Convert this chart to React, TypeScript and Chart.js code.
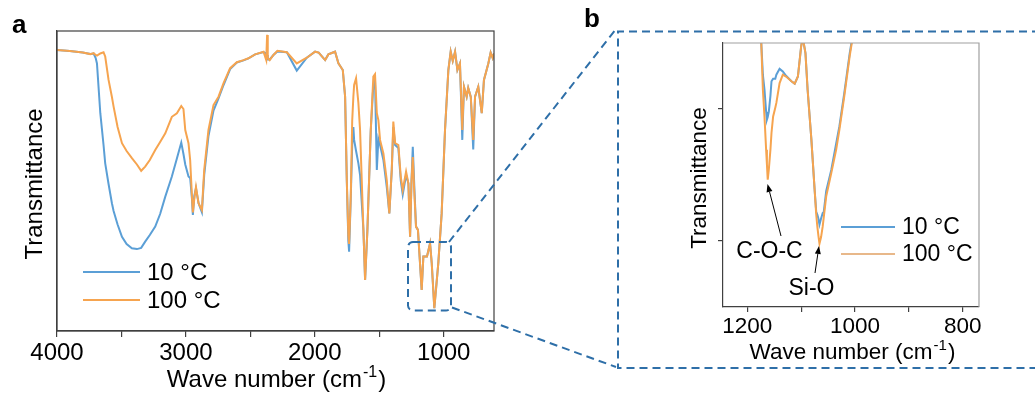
import React, { useEffect, useRef } from 'react';
import { Chart, registerables } from 'chart.js';

Chart.register(...registerables);

const FONT = "Arial, 'Liberation Sans', sans-serif";
const BLUE = '#5b9fd6';
const ORANGE = '#f6a44f';
const ORANGE_B_LEGEND = '#e8b88a';
const DASH = '#2e6fa8';
const AXIS = '#404040';

const seriesNames = ['10 °C', '100 °C'];

// Panel a: full spectrum (wave number, cm-1) and transmittance (arb. units)
const waveA = [
  4000, 3900, 3800, 3742, 3716, 3700, 3690, 3664, 3639, 3626, 3600, 3574, 3561, 3530, 3496,
  3460, 3419, 3380, 3347, 3316, 3280, 3238, 3200, 3160, 3109, 3070, 3036, 3019, 3005, 2980,
  2967, 2953, 2946, 2935, 2922, 2902, 2876, 2858, 2825, 2786, 2747, 2708, 2657, 2605, 2553,
  2515, 2463, 2398, 2377, 2370, 2365, 2350, 2321, 2290, 2217, 2140, 2062, 1998, 1970, 1920,
  1895, 1843, 1817, 1783, 1765, 1752, 1740, 1734, 1721, 1710, 1701, 1695, 1680, 1662, 1649,
  1623, 1610, 1592, 1566, 1546, 1533, 1519, 1507, 1494, 1468, 1442, 1422, 1403, 1391, 1377,
  1352, 1333, 1318, 1292, 1274, 1261, 1250, 1240, 1228, 1215, 1200, 1184, 1171, 1158, 1130,
  1106, 1093, 1073, 1042, 1016, 990, 964, 946, 930, 912, 894, 874, 856, 843, 822,
  810, 790, 771, 757, 732, 705, 688, 654, 636, 620, 610,
];
const blueA = [
  93.7, 93.3, 92.8, 92.3, 92.5, 91, 89.2, 72.6, 62, 55.9, 49, 42.6, 40, 35.5, 31.4,
  29, 27.6, 27.3, 27.7, 29.8, 32, 34.8, 39, 44.8, 51.5, 57.5, 62.8, 59, 55.5, 51.5,
  51, 44, 38.7, 45, 47.6, 42.6, 39.6, 52, 65, 73.5, 77.5, 82, 87.3, 89.5, 90.2,
  90.9, 92.2, 93, 92.5, 92, 90.5, 90.5, 92, 93.2, 92.9, 86.8, 91.1, 93.1, 92.8, 90.3,
  92.2, 93.1, 89.2, 87, 78.1, 50.3, 30, 26.4, 44.8, 62, 68, 63.7, 60, 55.9, 52,
  33.7, 17, 33.7, 67, 82, 83.5, 53.7, 64, 62, 57, 48, 39.2, 53.7, 68, 62,
  61, 50, 45.5, 52, 49.2, 31.4, 50, 61.4, 48, 34.8, 33.7, 22.6, 13.7, 24.8, 24.8,
  29.2, 22.6, 7.6, 22.6, 39.2, 67, 87, 93.1, 90, 93.1, 87, 89.2, 63.7, 81.4, 78.1,
  81, 78, 60.5, 78.1, 81.4, 72.6, 83.7, 89.2, 92.8, 91, 92.5,
];
const orangeA = [
  93.7, 93.3, 92.8, 92.3, 92.6, 92, 91.8, 92.5, 92.9, 91.5, 83.7, 78, 74.8, 68, 62.6,
  60, 57.6, 55.5, 53.4, 54.8, 57, 60.3, 63, 65.9, 71.4, 72.6, 75, 74, 67, 62.6,
  57, 44.8, 39.5, 44, 48, 42.6, 40.3, 53.7, 67, 75.3, 78.1, 82.6, 87.6, 89.6, 90.3,
  90.9, 92.2, 93.1, 90.3, 98.7, 91, 90.3, 92, 93.4, 92.9, 89.2, 91.1, 93.1, 92.8, 90.3,
  92.2, 93.1, 89.2, 87, 78.1, 50.3, 32, 29, 44.8, 70, 78.1, 82, 84.2, 76, 67,
  33.7, 17, 33.7, 67, 84.8, 85.6, 72.6, 70.3, 63.7, 59.2, 50.3, 39.2, 53.7, 69.8, 62.6,
  62, 51.4, 47, 53.1, 49.2, 31.4, 50, 58, 46, 34.8, 33.7, 22.6, 13.7, 24.8, 24.8,
  29.2, 22.6, 7.6, 22.6, 39.2, 67, 87, 93.1, 90, 93.1, 87, 89.2, 67, 81.4, 78.1,
  81, 78, 63.7, 78.1, 81.4, 72.6, 83.7, 89.2, 92.8, 91, 92.5,
];
const ticksA = [4000, 3500, 3000, 2500, 2000, 1500, 1000];
const tickLabelsA = ['4000', '', '3000', '', '2000', '', '1000'];

// Panel b: enlarged 1200-1000 cm-1 region
const waveB = [
  1245, 1190, 1176, 1174, 1171, 1168, 1165, 1163.5, 1162, 1160, 1157, 1155, 1152, 1148, 1146,
  1140, 1134, 1128, 1118, 1112, 1106, 1100, 1097, 1092, 1088, 1081, 1075, 1072, 1070, 1068,
  1066, 1063, 1060, 1058, 1053.5, 1044, 1035, 1029, 1020, 1010, 1006, 995,
];
const blueB = [
  250, 140, 105, 100, 88, 82.3, 74, 71, 72, 74, 80, 85.5, 86.5, 86.5, 88,
  90.2, 89.2, 87.6, 85.5, 84.6, 87.3, 98.7, 102, 96.2, 82.3, 63.4, 44.4, 36, 35, 33.5,
  31.2, 33.5, 35.6, 36, 44, 52, 62, 68.5, 81, 96, 101, 130,
];
const orangeB = [
  250, 140, 105, 100, 82.3, 72, 59.6, 54, 48.2, 52, 59.6, 66, 72.2, 75.5, 77.3,
  84.8, 88, 87.3, 85.5, 84.6, 87.3, 98.7, 102, 96.2, 82.3, 63.4, 44.4, 35, 30.5, 27,
  24, 26.5, 30.5, 34, 41.9, 50.8, 59.6, 67.2, 79.8, 94.9, 100, 130,
];
const ticksB = [1200, 1100, 1000, 900, 800];
const tickLabelsB = ['1200', '', '1000', '', '800'];
const ticksBY = [25, 75];
const peakLabels = ['C-O-C', 'Si-O'];

const W = 1035;
const H = 396;

function toPts(xs: number[], ys: number[]) {
  return xs.map((x, i) => ({ x, y: ys[i] }));
}

function supTitle(ctx: CanvasRenderingContext2D, cx: number, baseline: number, size: number) {
  const main = 'Wave number (cm';
  const sup = '-1';
  const tail = ')';
  ctx.save();
  ctx.fillStyle = '#000';
  ctx.textBaseline = 'alphabetic';
  ctx.textAlign = 'left';
  const f1 = `${size}px ${FONT}`;
  const f2 = `${Math.round(size * 0.65)}px ${FONT}`;
  ctx.font = f1;
  const w1 = ctx.measureText(main).width;
  const w3 = ctx.measureText(tail).width;
  ctx.font = f2;
  const w2 = ctx.measureText(sup).width;
  let x = cx - (w1 + w2 + w3) / 2;
  ctx.font = f1;
  ctx.fillText(main, x, baseline);
  x += w1 + 1;
  ctx.font = f2;
  ctx.fillText(sup, x, baseline - size * 0.42);
  x += w2 + 1;
  ctx.font = f1;
  ctx.fillText(tail, x, baseline);
  ctx.restore();
}

function yTitle(ctx: CanvasRenderingContext2D, baseX: number, cy: number, size: number) {
  ctx.save();
  ctx.translate(baseX, cy);
  ctx.rotate(-Math.PI / 2);
  ctx.fillStyle = '#000';
  ctx.font = `${size}px ${FONT}`;
  ctx.textAlign = 'center';
  ctx.textBaseline = 'alphabetic';
  ctx.fillText('Transmittance', 0, 0);
  ctx.restore();
}

function legend(ctx: CanvasRenderingContext2D, x1: number, x2: number, ys: number[], colors: string[], tx: number, size: number) {
  ctx.save();
  ctx.lineWidth = 2.2;
  ctx.font = `${size}px ${FONT}`;
  ctx.textBaseline = 'middle';
  ctx.textAlign = 'left';
  ys.forEach((y, i) => {
    ctx.strokeStyle = colors[i];
    ctx.beginPath();
    ctx.moveTo(x1, y);
    ctx.lineTo(x2, y);
    ctx.stroke();
    ctx.fillStyle = '#000';
    ctx.fillText(seriesNames[i], tx, y + 1);
  });
  ctx.restore();
}

function arrow(ctx: CanvasRenderingContext2D, x1: number, y1: number, x2: number, y2: number) {
  ctx.save();
  ctx.strokeStyle = '#000';
  ctx.fillStyle = '#000';
  ctx.lineWidth = 1;
  const a = Math.atan2(y2 - y1, x2 - x1);
  const hl = 8;
  const hw = 3;
  const bx = x2 - hl * Math.cos(a);
  const by = y2 - hl * Math.sin(a);
  ctx.beginPath();
  ctx.moveTo(x1, y1);
  ctx.lineTo(bx, by);
  ctx.stroke();
  ctx.beginPath();
  ctx.moveTo(x2, y2);
  ctx.lineTo(bx + hw * Math.sin(a), by - hw * Math.cos(a));
  ctx.lineTo(bx - hw * Math.sin(a), by + hw * Math.cos(a));
  ctx.closePath();
  ctx.fill();
  ctx.restore();
}

const decorA = {
  id: 'decorA',
  afterDraw(chart: any) {
    const ctx: CanvasRenderingContext2D = chart.ctx;
    const ca = chart.chartArea;
    ctx.save();
    ctx.strokeStyle = AXIS;
    ctx.lineWidth = 1.2;
    ctx.strokeRect(ca.left, ca.top, ca.right - ca.left, ca.bottom - ca.top);
    ctx.restore();

    legend(ctx, 83, 140, [272, 300], [BLUE, ORANGE], 147, 24);
    supTitle(ctx, (ca.left + ca.right) / 2, 387, 24);
    yTitle(ctx, 41.5, (ca.top + ca.bottom) / 2 + 3, 24);

    ctx.save();
    ctx.fillStyle = '#000';
    ctx.font = `bold 26px ${FONT}`;
    ctx.textBaseline = 'alphabetic';
    ctx.textAlign = 'left';
    ctx.fillText('a', 12, 33);
    ctx.fillText('b', 584, 27);
    ctx.restore();

    ctx.save();
    ctx.strokeStyle = DASH;
    ctx.lineWidth = 2;
    ctx.setLineDash([8, 5]);
    ctx.beginPath();
    if ((ctx as any).roundRect) (ctx as any).roundRect(408, 242, 43, 68.5, 5);
    else ctx.rect(408, 242, 43, 68.5);
    ctx.stroke();
    ctx.beginPath();
    ctx.moveTo(449, 242);
    ctx.lineTo(616, 29);
    ctx.moveTo(452, 307.5);
    ctx.lineTo(616, 367);
    ctx.stroke();
    ctx.beginPath();
    ctx.moveTo(1040, 31.5);
    ctx.lineTo(618, 31.5);
    ctx.lineTo(618, 368);
    ctx.lineTo(1040, 368);
    ctx.stroke();
    ctx.restore();
  },
};

const decorB = {
  id: 'decorB',
  afterDraw(chart: any) {
    const ctx: CanvasRenderingContext2D = chart.ctx;
    const ca = chart.chartArea;
    ctx.save();
    ctx.strokeStyle = '#a0a0a0';
    ctx.lineWidth = 1.2;
    ctx.beginPath();
    ctx.moveTo(ca.left, ca.top);
    ctx.lineTo(ca.right, ca.top);
    ctx.lineTo(ca.right, ca.bottom);
    ctx.stroke();
    ctx.restore();

    legend(ctx, 841, 895, [227, 254], [BLUE, ORANGE_B_LEGEND], 902, 23);
    supTitle(ctx, 851.5, 359, 22.5);
    yTitle(ctx, 706, (ca.top + ca.bottom) / 2 + 3, 22.5);

    ctx.save();
    ctx.fillStyle = '#000';
    ctx.font = `23px ${FONT}`;
    ctx.textAlign = 'center';
    ctx.textBaseline = 'middle';
    ctx.fillText(peakLabels[0], 769.5, 252);
    ctx.fillText(peakLabels[1], 811.5, 289);
    ctx.restore();
    arrow(ctx, 781, 236, 767.5, 184);
    arrow(ctx, 815, 273, 819, 246);
  },
};

function lineDs(label: string, pts: { x: number; y: number }[], color: string, order: number) {
  return {
    label,
    data: pts,
    borderColor: color,
    backgroundColor: color,
    borderWidth: 2,
    pointRadius: 0,
    tension: 0,
    fill: false,
    clip: 0,
    order,
  };
}

export default function App() {
  const refA = useRef<HTMLCanvasElement>(null);
  const refB = useRef<HTMLCanvasElement>(null);

  useEffect(() => {
    const chartA = new Chart(refA.current as HTMLCanvasElement, {
      type: 'line',
      data: {
        datasets: [
          lineDs(seriesNames[0], toPts(waveA, blueA), BLUE, 2),
          lineDs(seriesNames[1], toPts(waveA, orangeA), ORANGE, 1),
        ] as any,
      },
      options: {
        animation: false,
        responsive: false,
        maintainAspectRatio: false,
        devicePixelRatio: 1,
        layout: { padding: { left: 0, top: 31, right: W - 494, bottom: 0 } },
        plugins: { legend: { display: false }, tooltip: { enabled: false } },
        scales: {
          x: {
            type: 'linear',
            reverse: true,
            min: 610,
            max: 4000,
            afterBuildTicks: (s: any) => {
              s.ticks = ticksA.map((v) => ({ value: v }));
            },
            afterFit: (s: any) => {
              s.height = 65;
            },
            ticks: {
              callback: (v: any) => tickLabelsA[ticksA.indexOf(Number(v))] ?? '',
              font: { size: 24, family: FONT },
              color: '#000',
              padding: 2,
              maxRotation: 0,
              autoSkip: false,
            },
            grid: { display: true, drawOnChartArea: false, drawTicks: true, tickLength: 6, color: AXIS, lineWidth: 1.2 },
            border: { display: true, color: AXIS, width: 1.2 },
          },
          y: {
            type: 'linear',
            min: 0,
            max: 100,
            afterFit: (s: any) => {
              s.width = 57;
            },
            ticks: { display: false },
            grid: { display: false },
            border: { display: true, color: AXIS, width: 1.2 },
          },
        },
      } as any,
      plugins: [decorA],
    });

    const chartB = new Chart(refB.current as HTMLCanvasElement, {
      type: 'line',
      data: {
        datasets: [
          lineDs(seriesNames[0], toPts(waveB, blueB), BLUE, 2),
          lineDs(seriesNames[1], toPts(waveB, orangeB), ORANGE, 1),
        ] as any,
      },
      options: {
        animation: false,
        responsive: false,
        maintainAspectRatio: false,
        devicePixelRatio: 1,
        layout: { padding: { left: 693, top: 43, right: W - 979, bottom: 0 } },
        plugins: { legend: { display: false }, tooltip: { enabled: false } },
        scales: {
          x: {
            type: 'linear',
            reverse: true,
            min: 770,
            max: 1245,
            afterBuildTicks: (s: any) => {
              s.ticks = ticksB.map((v) => ({ value: v }));
            },
            afterFit: (s: any) => {
              s.height = H - 307;
            },
            ticks: {
              callback: (v: any) => tickLabelsB[ticksB.indexOf(Number(v))] ?? '',
              font: { size: 22.5, family: FONT },
              color: '#000',
              padding: 1,
              maxRotation: 0,
              autoSkip: false,
            },
            grid: { display: true, drawOnChartArea: false, drawTicks: true, tickLength: 5, color: AXIS, lineWidth: 1.2 },
            border: { display: true, color: AXIS, width: 1.2 },
          },
          y: {
            type: 'linear',
            min: 0,
            max: 100,
            afterBuildTicks: (s: any) => {
              s.ticks = ticksBY.map((v) => ({ value: v }));
            },
            afterFit: (s: any) => {
              s.width = 30;
            },
            ticks: { display: false },
            grid: { display: true, drawOnChartArea: false, drawTicks: true, tickLength: 5, color: AXIS, lineWidth: 1.2 },
            border: { display: true, color: AXIS, width: 1.2 },
          },
        },
      } as any,
      plugins: [decorB],
    });

    return () => {
      chartA.destroy();
      chartB.destroy();
    };
  }, []);

  return (
    <div style={{ position: 'absolute', left: 0, top: 0, width: W, height: H, background: '#fff', overflow: 'hidden' }}>
      <canvas ref={refA} width={W} height={H} style={{ position: 'absolute', left: 0, top: 0 }} />
      <canvas ref={refB} width={W} height={H} style={{ position: 'absolute', left: 0, top: 0 }} />
    </div>
  );
}
